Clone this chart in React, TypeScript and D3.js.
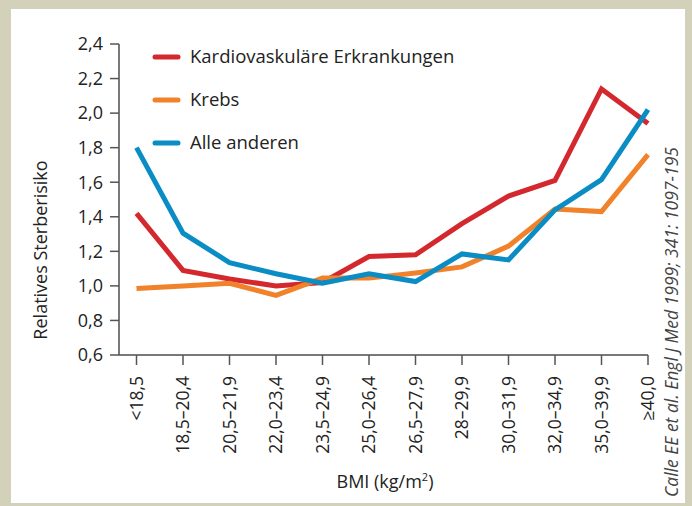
import React, { useRef, useEffect } from 'react';
import * as d3 from 'd3';

const categories = ['<18,5', '18,5–20,4', '20,5–21,9', '22,0–23,4', '23,5–24,9', '25,0–26,4', '26,5–27,9', '28–29,9', '30,0–31,9', '32,0–34,9', '35,0–39,9', '≥40,0'];
const kardio = [1.42, 1.09, 1.04, 1.0, 1.02, 1.17, 1.18, 1.36, 1.52, 1.61, 2.14, 1.94];
const krebs = [0.985, 1.0, 1.015, 0.945, 1.045, 1.045, 1.075, 1.11, 1.23, 1.445, 1.43, 1.76];
const andere = [1.8, 1.305, 1.135, 1.07, 1.015, 1.07, 1.025, 1.185, 1.15, 1.44, 1.615, 2.02];
const yTicks = [0.6, 0.8, 1.0, 1.2, 1.4, 1.6, 1.8, 2.0, 2.2, 2.4];

const series = [
    { name: 'Kardiovaskuläre Erkrankungen', values: kardio, color: '#d4282f' },
    { name: 'Krebs', values: krebs, color: '#f1822a' },
    { name: 'Alle anderen', values: andere, color: '#0a8cc4' },
];

export default function App() {
    const svgRef = useRef<SVGSVGElement | null>(null);

    useEffect(() => {
        const width = 692;
        const height = 506;
        const font = "'Open Sans', sans-serif";

        d3.select(svgRef.current).selectAll('*').remove();
        const svg = d3.select(svgRef.current).attr('width', width).attr('height', height);

        svg.append('rect').attr('width', width).attr('height', height).attr('fill', '#d4d1bb');
        svg.append('rect').attr('x', 11).attr('y', 9).attr('width', 674).attr('height', 494).attr('fill', '#fff');

        const x = d3.scalePoint().domain(categories).range([136.5, 648]);
        const y = d3.scaleLinear().domain([0.6, 2.4]).range([355, 44]);
        const axisX = 119;

        // y axis
        svg.append('line').attr('x1', axisX).attr('x2', axisX).attr('y1', y(2.4)).attr('y2', y(0.6))
            .attr('stroke', '#4d4d4d').attr('stroke-width', 1.5);
        yTicks.forEach((t) => {
            svg.append('line').attr('x1', axisX - 9).attr('x2', axisX).attr('y1', y(t)).attr('y2', y(t))
                .attr('stroke', '#555').attr('stroke-width', 1.5);
            svg.append('text').attr('x', 103).attr('y', y(t)).attr('dy', '0.35em')
                .attr('text-anchor', 'end').attr('font-family', font).attr('font-size', 18)
                .attr('fill', '#222').text(d3.format('.1f')(t).replace('.', ','));
        });

        // x axis
        svg.append('line').attr('x1', axisX).attr('x2', 648).attr('y1', y(0.6)).attr('y2', y(0.6))
            .attr('stroke', '#4d4d4d').attr('stroke-width', 1.5);
        categories.forEach((c) => {
            const cx = x(c)!;
            svg.append('line').attr('x1', cx).attr('x2', cx).attr('y1', y(0.6)).attr('y2', y(0.6) + 10)
                .attr('stroke', '#555').attr('stroke-width', 1.5);
            svg.append('text').attr('transform', `translate(${cx},${y(0.6) + 21}) rotate(-90)`)
                .attr('dy', '0.35em').attr('text-anchor', 'end').attr('font-family', font)
                .attr('font-size', 17.5).attr('fill', '#222').text(c);
        });

        // lines
        const line = d3.line<number>().x((_, i) => x(categories[i])!).y((d) => y(d));
        series.forEach((s) => {
            svg.append('path').attr('d', line(s.values)).attr('fill', 'none')
                .attr('stroke', s.color).attr('stroke-width', 5).attr('stroke-linejoin', 'miter');
        });

        // legend
        series.forEach((s, i) => {
            const ly = 57 + i * 43;
            svg.append('line').attr('x1', 155).attr('x2', 178).attr('y1', ly).attr('y2', ly)
                .attr('stroke', s.color).attr('stroke-width', 5).attr('stroke-linecap', 'round');
            svg.append('text').attr('x', 190).attr('y', ly).attr('dy', '0.35em')
                .attr('font-family', font).attr('font-size', 18.5).attr('fill', '#222').text(s.name);
        });

        // axis titles
        svg.append('text').attr('transform', `translate(47,250) rotate(-90)`)
            .attr('text-anchor', 'middle').attr('font-family', font).attr('font-size', 18)
            .attr('fill', '#222').text('Relatives Sterberisiko');

        const bmi = svg.append('text').attr('x', 385).attr('y', 488).attr('text-anchor', 'middle')
            .attr('font-family', font).attr('font-size', 18).attr('fill', '#222');
        bmi.append('tspan').text('BMI (kg/m');
        bmi.append('tspan').attr('font-size', 11).attr('dy', -7).text('2');
        bmi.append('tspan').attr('dy', 7).text(')');

        svg.append('text').attr('transform', `translate(678,497) rotate(-90)`)
            .attr('text-anchor', 'start').attr('font-family', font).attr('font-size', 17.5)
            .attr('font-style', 'italic').attr('fill', '#444')
            .text('Calle EE et al. Engl J Med 1999; 341: 1097-195');
    }, []);

    return <svg ref={svgRef} style={{ position: 'absolute', left: 0, top: 0 }}></svg>;
}
